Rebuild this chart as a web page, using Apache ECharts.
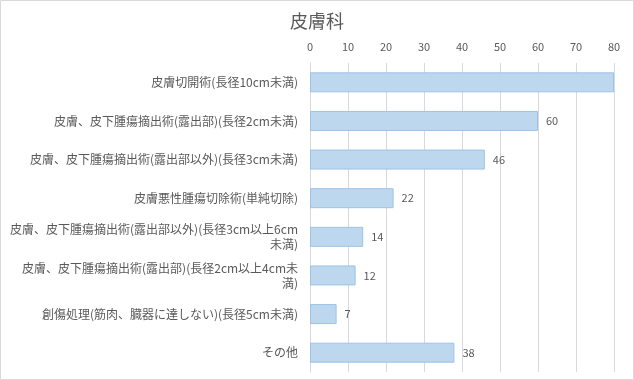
<!DOCTYPE html>
<html><head><meta charset="utf-8">
<script src="https://cdn.jsdelivr.net/npm/echarts@6/dist/echarts.min.js"></script>
<style>html,body{margin:0;padding:0;background:#fff}#c{width:634px;height:380px}</style>
</head><body><div id="c"></div>
<script>
const categories = [
  "皮膚切開術(長径10cm未満)",
  "皮膚、皮下腫瘍摘出術(露出部)(長径2cm未満)",
  "皮膚、皮下腫瘍摘出術(露出部以外)(長径3cm未満)",
  "皮膚悪性腫瘍切除術(単純切除)",
  "皮膚、皮下腫瘍摘出術(露出部以外)(長径3cm以上6cm\n未満)",
  "皮膚、皮下腫瘍摘出術(露出部)(長径2cm以上4cm未\n満)",
  "創傷処理(筋肉、臓器に達しない)(長径5cm未満)",
  "その他"
];
const values = [80, 60, 46, 22, 14, 12, 7, 38];
const hiddenLabel = [true, false, false, false, false, false, false, false];
const axisMin = 0, axisMax = 80, axisStep = 10;

const font = "'Noto Sans CJK JP', 'Noto Sans', sans-serif";
const chart = echarts.init(document.getElementById('c'));
chart.setOption({
  animation: false,
  title: { text: '皮膚科', left: 'center', top: 7,
    textStyle: { fontFamily: font, fontSize: 18, fontWeight: 'normal', color: '#595959' } },
  graphic: [{ type: 'rect', shape: { x: 0.5, y: 0.5, width: 633, height: 379 },
    style: { fill: 'none', stroke: '#d9d9d9', lineWidth: 1 }, silent: true }],
  grid: { left: 310, right: 20, top: 63, bottom: 8, containLabel: false },
  xAxis: { type: 'value', position: 'top', min: axisMin, max: axisMax, interval: axisStep,
    axisLine: { show: false }, axisTick: { show: false },
    axisLabel: { color: '#595959', fontSize: 11, fontFamily: font, margin: 11 },
    splitLine: { show: true, lineStyle: { color: '#d9d9d9', width: 1 } } },
  yAxis: { type: 'category', data: categories, inverse: true,
    axisLine: { show: true, lineStyle: { color: '#d9d9d9' } }, axisTick: { show: false },
    axisLabel: { color: '#595959', fontSize: 12, fontFamily: font, margin: 12, lineHeight: 15, align: 'right' } },
  series: [{ type: 'bar', barWidth: 20,
    data: values.map((v, i) => ({ value: v, label: { show: !hiddenLabel[i] } })),
    itemStyle: { color: '#BDD7EE', borderColor: '#9DC3E6', borderWidth: 1 },
    label: { show: true, position: 'right', distance: 8, color: '#595959', fontSize: 11, fontFamily: font } }]
});
</script></body></html>
